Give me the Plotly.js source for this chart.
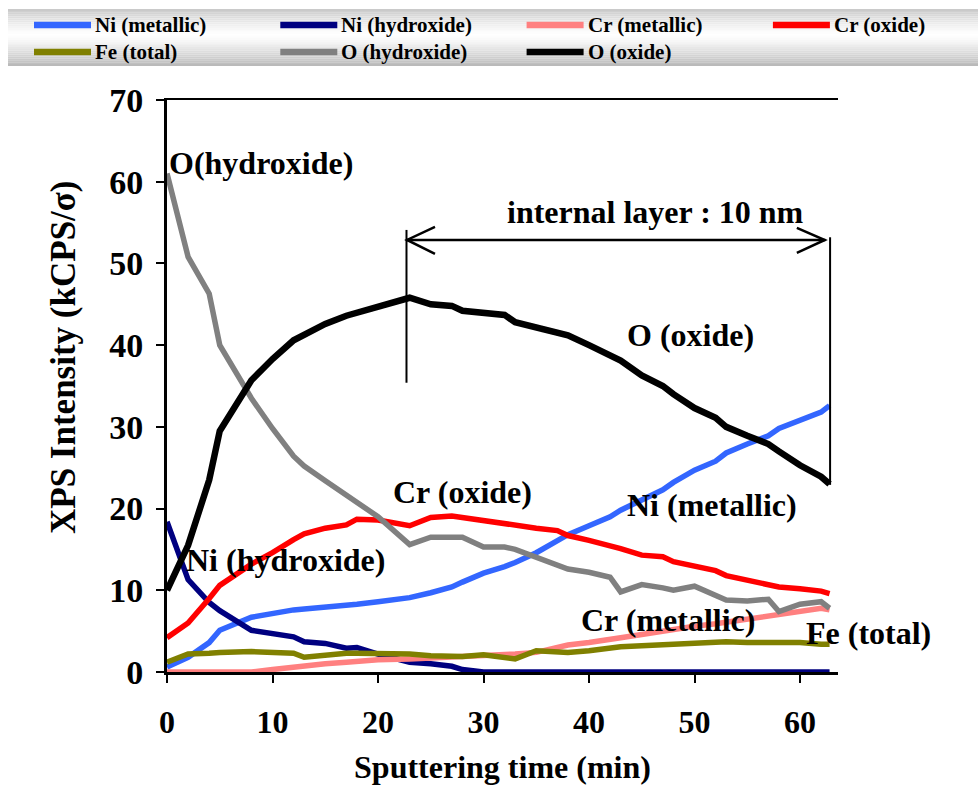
<!DOCTYPE html>
<html><head><meta charset="utf-8">
<script src="https://cdn.plot.ly/plotly-3.0.1.min.js"></script>
<style>html,body{margin:0;padding:0;background:#fff}#chart{width:978px;height:788px}</style>
</head><body><div id="chart"></div>
<script>
// ---- data ----
const time = [0, 2, 4, 5, 8, 10, 12, 13, 15, 17, 18, 20, 23, 25, 27, 28, 30, 32, 33, 35, 37, 38, 40, 42, 43, 45, 47, 48, 50, 52, 53, 55, 57, 58, 60, 62, 62.8];
const niMetallic = [0.6, 1.8, 3.6, 5.1, 6.7, 7.2, 7.6, 7.7, 7.9, 8.1, 8.3, 8.6, 9.1, 9.7, 10.4, 11.0, 12.1, 12.9, 13.4, 14.6, 16.0, 16.8, 17.9, 19.0, 19.8, 21.0, 22.3, 23.2, 24.7, 25.8, 26.8, 27.9, 28.9, 29.8, 30.8, 31.8, 32.6];
const niHydroxide = [18.4, 11.3, 8.5, 7.5, 5.1, 4.7, 4.3, 3.7, 3.5, 2.9, 3.0, 2.2, 1.2, 1.0, 0.7, 0.3, 0, 0, 0, 0, 0, 0, 0, 0, 0, 0, 0, 0, 0, 0, 0, 0, 0, 0, 0, 0, 0];
const crMetallic = [0, 0, 0, 0, 0, 0.3, 0.6, 0.8, 1.0, 1.2, 1.3, 1.5, 1.6, 1.7, 1.8, 1.8, 1.9, 2.1, 2.2, 2.4, 2.9, 3.3, 3.6, 3.9, 4.2, 4.6, 5.0, 5.3, 5.6, 5.9, 6.1, 6.5, 6.9, 7.1, 7.4, 7.8, 7.6];
const crOxide = [4.2, 6.0, 9.0, 10.6, 13.2, 14.6, 16.2, 16.9, 17.6, 18.0, 18.7, 18.6, 17.9, 18.9, 19.1, 18.9, 18.6, 18.2, 18.0, 17.6, 17.3, 16.7, 16.1, 15.5, 15.1, 14.3, 14.1, 13.5, 13.0, 12.4, 11.8, 11.2, 10.7, 10.4, 10.2, 9.9, 9.6];
const feTotal = [1.2, 2.2, 2.3, 2.4, 2.5, 2.4, 2.3, 1.8, 2.1, 2.3, 2.3, 2.3, 2.2, 2.0, 1.9, 1.9, 2.1, 1.7, 1.6, 2.6, 2.4, 2.4, 2.6, 2.9, 3.1, 3.2, 3.3, 3.3, 3.4, 3.6, 3.7, 3.6, 3.6, 3.7, 3.6, 3.4, 3.4];
const oHydroxide = [61, 50.8, 46.3, 40.0, 33.5, 29.8, 26.4, 25.2, 23.4, 21.7, 20.9, 19.0, 15.6, 16.5, 16.5, 16.5, 15.3, 15.3, 15.0, 14.0, 13.0, 12.6, 12.2, 11.6, 9.8, 10.7, 10.3, 10.0, 10.5, 9.3, 8.8, 8.7, 8.9, 7.4, 8.3, 8.6, 7.8];
const oOxide = [10, 15.5, 23.5, 29.5, 35.7, 38.3, 40.6, 41.3, 42.6, 43.6, 44.0, 44.7, 45.8, 45.0, 44.8, 44.2, 44.0, 43.7, 42.8, 42.2, 41.6, 41.2, 40.0, 38.6, 38.1, 36.3, 35.0, 34.0, 32.3, 31.1, 30.0, 28.9, 27.9, 27.0, 25.3, 23.9, 23.0];

const seriesNames = ['Ni (metallic)', 'Ni (hydroxide)', 'Cr (metallic)', 'Cr (oxide)', 'Fe (total)', 'O (hydroxide)', 'O (oxide)'];
const seriesValues = [niMetallic, niHydroxide, crMetallic, crOxide, feTotal, oHydroxide, oOxide];

// ---- styles ----
const seriesColors = ['#3366FF', '#000080', '#FF8080', '#FF0000', '#808000', '#808080', '#000000'];
const seriesWidths = [5.5, 5.5, 5.5, 5.5, 5.5, 5.5, 6.5];
const FONT = 'Liberation Serif, Times New Roman, serif';

const traces = seriesNames.map((n, i) => ({
  x: time, y: seriesValues[i], name: n, type: 'scatter', mode: 'lines',
  line: {color: seriesColors[i], width: seriesWidths[i]}, showlegend: false
}));

// pixel -> paper conversions
const M = {l: 167, r: 140, t: 100, b: 116};
const W = 978 - M.l - M.r, H = 788 - M.t - M.b;
const px2x = p => (p - M.l) / W;
const py2y = p => (788 - M.b - p) / H;
const shapes = [];
const annotations = [];

// gradient legend band
const bandTop = 9, bandBot = 66, N = 30;
for (let k = 0; k < N; k++) {
  const a = bandTop + (bandBot - bandTop) * k / N;
  const b = bandTop + (bandBot - bandTop) * (k + 1) / N;
  const mid = (k + 0.5) / N;
  const t = Math.abs(mid - 0.45) / 0.55;
  const g = Math.round(255 - 72 * Math.pow(t, 1.3));
  shapes.push({type: 'rect', xref: 'paper', yref: 'paper', layer: 'below',
    x0: px2x(8), x1: px2x(978), y0: py2y(b), y1: py2y(a),
    fillcolor: `rgb(${g},${g},${g})`, line: {width: 0}});
}
// legend entries (built from the series names / colours)
const legFont = {family: FONT, size: 21, color: '#000', weight: 'bold'};
seriesNames.forEach((n, i) => {
  const col = i % 4, row = Math.floor(i / 4);
  const x0 = 34 + 246.3 * col, x1 = x0 + 57, yy = 25 + 27 * row;
  shapes.push({type: 'line', xref: 'paper', yref: 'paper', x0: px2x(x0), x1: px2x(x1),
    y0: py2y(yy), y1: py2y(yy), line: {color: seriesColors[i], width: 6.5}});
  annotations.push({text: n, xref: 'paper', yref: 'paper', x: px2x(x1 + 2), y: py2y(yy),
    xanchor: 'left', yanchor: 'middle', showarrow: false, font: legFont});
});

// internal layer arrow
const lineStyle = {color: '#000', width: 2.5};
shapes.push({type: 'line', xref: 'x', yref: 'y', x0: 22.7, x1: 62.4, y0: 52.87, y1: 52.87, line: lineStyle});
shapes.push({type: 'line', xref: 'x', yref: 'y', x0: 22.7, x1: 22.7, y0: 54.1, y1: 35.4, line: {color: '#000', width: 2}});
shapes.push({type: 'line', xref: 'x', yref: 'y', x0: 62.85, x1: 62.85, y0: 53.2, y1: 22.9, line: {color: '#000', width: 2}});
shapes.push({type: 'path', xref: 'x', yref: 'y', path: 'M25.4,54.46 L22.75,52.87 L25.4,51.16', line: lineStyle});
shapes.push({type: 'path', xref: 'x', yref: 'y', path: 'M59.7,54.34 L62.35,52.87 L59.7,51.28', line: lineStyle});

const annFont = {family: FONT, size: 32, color: '#000', weight: 'bold'};
const ann = (text, x, y, xanchor) => ({text, x, y, xref: 'x', yref: 'y', showarrow: false,
  xanchor: xanchor || 'center', yanchor: 'middle', font: annFont});
annotations.push(
  ann('O(hydroxide)', 0, 62.3, 'left'),
  ann('internal layer : 10 nm', 46.3, 56.3),
  ann('O (oxide)', 49.6, 41.2),
  ann('Cr (oxide)', 28.0, 22.0),
  ann('Ni (hydroxide)', 11.2, 13.7),
  ann('Ni (metallic)', 51.7, 20.4),
  ann('Cr (metallic)', 47.5, 6.4),
  {text: 'Fe (total)', xref: 'paper', yref: 'paper', x: px2x(868), y: py2y(633), showarrow: false,
   xanchor: 'center', yanchor: 'middle', font: annFont},
  // y axis title
  {text: 'XPS Intensity (kCPS/σ)', xref: 'paper', yref: 'paper', x: px2x(63), y: py2y(357),
   textangle: -90, showarrow: false, xanchor: 'center', yanchor: 'middle',
   font: {family: FONT, size: 35, color: '#000', weight: 'bold'}}
);

const layout = {
  width: 978, height: 788,
  margin: M,
  paper_bgcolor: '#fff', plot_bgcolor: '#fff',
  showlegend: false,
  xaxis: {range: [0, 63.6], dtick: 10, tick0: 0, showgrid: false, zeroline: false,
    showline: true, linecolor: '#000', linewidth: 2.5, mirror: true,
    ticks: 'outside', ticklen: 8, tickwidth: 2, tickcolor: '#000', ticklabelstandoff: 12,
    tickfont: {family: FONT, size: 32, color: '#000', weight: 'bold'},
    title: {text: 'Sputtering time (min)', standoff: 17, font: {family: FONT, size: 32, color: '#000', weight: 'bold'}}},
  yaxis: {range: [0, 70], dtick: 10, tick0: 0, showgrid: false, zeroline: false,
    showline: true, linecolor: '#000', linewidth: 3,
    ticks: 'outside', ticklen: 8, tickwidth: 2, tickcolor: '#000', ticklabelstandoff: 6,
    tickfont: {family: FONT, size: 34, color: '#000', weight: 'bold'}},
  shapes, annotations
};

Plotly.newPlot('chart', traces, layout, {staticPlot: true, displayModeBar: false});
</script></body></html>
